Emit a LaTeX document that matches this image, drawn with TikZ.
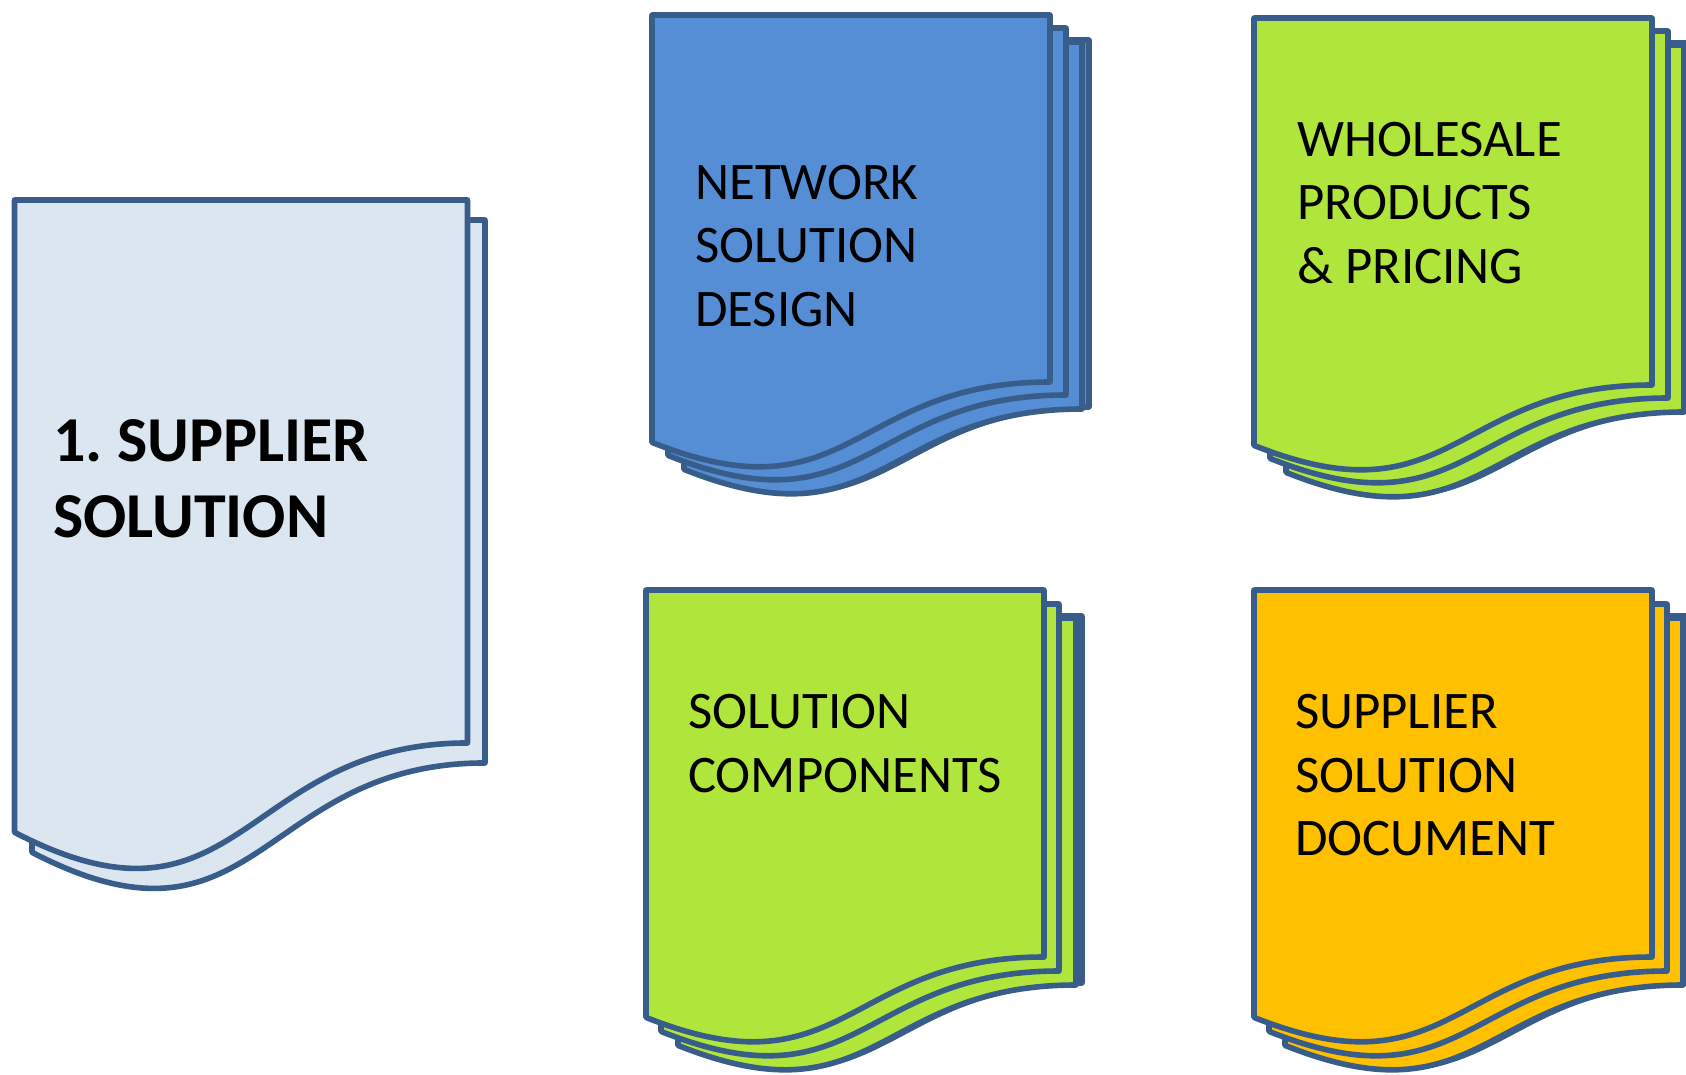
\documentclass[tikz,border=0pt]{standalone}
\usepackage{fontspec}
\setmainfont{Carlito}
\definecolor{edge}{HTML}{385D8A}
\definecolor{bluef}{HTML}{558ED5}
\definecolor{greenf}{HTML}{B0E63C}
\definecolor{orangef}{HTML}{FFC000}
\definecolor{palef}{HTML}{DCE6F1}
\tikzset{
  sheet/.style={draw=edge,line width=5.6pt,line join=round},
  label/.style={anchor=north west,inner sep=0pt,align=left,font=\fontsize{52.8}{63.5}\selectfont\frenchspacing,text=black},
  title/.style={anchor=north west,inner sep=0pt,align=left,font=\fontsize{64}{76}\selectfont\bfseries\frenchspacing,text=black},
}
% #1 left, #2 top, #3 width, #4 height of the full shape, #5 fill
\newcommand{\docsheet}[5]{%
  \path[sheet,fill=#5] (#1,#2) -- ({#1+#3},#2) -- ({#1+#3},{#2+0.802*#4})
    .. controls ({#1+0.5*#3},{#2+0.802*#4}) and ({#1+0.5*#3},{#2+1.1075*#4}) .. (#1,{#2+0.934*#4}) -- cycle;}
\begin{document}
\begin{tikzpicture}[x=1pt,y=-1pt]
\useasboundingbox (0,0) rectangle (1686,1074);
% supplier solution
\docsheet{32}{220}{453}{677}{palef}
\docsheet{14.5}{200}{453}{677}{palef}
\node[title] (t1) at (53,419.5) {1. SUPPLIER\\SOLUTION};
% network solution design
\docsheet{691}{40}{398}{457.6}{bluef}
\docsheet{684}{42}{398}{457.6}{bluef}
\docsheet{668}{28}{398}{457.6}{bluef}
\docsheet{652}{15}{398}{457.6}{bluef}
\node[label] (t2) at (695,165) {NETWORK\\SOLUTION\\DESIGN};
% wholesale
\docsheet{1293}{43}{398}{457.6}{greenf}
\docsheet{1286}{45}{398}{457.6}{greenf}
\docsheet{1270}{31}{398}{457.6}{greenf}
\docsheet{1254}{18}{398}{457.6}{greenf}
\node[label] (t3) at (1297,122) {WHOLESALE\\PRODUCTS\\\& PRICING};
% solution components
\docsheet{684}{616}{398}{457.6}{greenf}
\docsheet{678}{618}{398}{457.6}{greenf}
\docsheet{661}{604}{398}{457.6}{greenf}
\docsheet{646}{590}{398}{457.6}{greenf}
\node[label] (t4) at (688,694.5) {SOLUTION\\COMPONENTS};
% supplier solution document
\docsheet{1292}{616}{398}{457.6}{orangef}
\docsheet{1285}{618}{398}{457.6}{orangef}
\docsheet{1269}{604}{398}{457.6}{orangef}
\docsheet{1254}{590}{398}{457.6}{orangef}
\node[label] (t5) at (1295,694.5) {SUPPLIER\\SOLUTION\\DOCUMENT};
\end{tikzpicture}
\end{document}
